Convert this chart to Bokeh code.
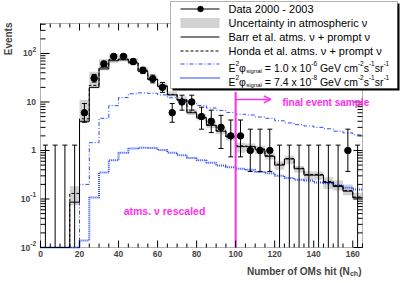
import math
from bokeh.plotting import figure
from bokeh.models import Range1d, Label, BoxAnnotation, Arrow, OpenHead
from bokeh.embed import file_html
from bokeh.resources import INLINE

# ---------------- data ----------------
bin_edges = list(range(0, 170, 5))          # N_ch bins of width 5, 0..165
data_counts = [0, 0, 0, 0, 6, 31, 61, 87, 87, 68, 45, 30, 20, 6, 10, 10, 5, 4,
               3, 2, 2, 1, 1, 1, 0, 0, 0, 0, 0, 0, 0, 1, 0]
data_err_lo = [0, 0, 0, 0, 3.82, 25.7, 53.5, 78, 78, 60, 38.5, 24.8, 15.8, 3.82,
               6.78, 6.78, 2.75, 2.34, 1.10, 0.74, 0.74, 0.37, 0.37, 0.37, 0, 0,
               0, 0, 0, 0, 0, 0.37, 0]
data_err_hi = [1.29, 1.29, 1.29, 1.29, 9.28, 37, 69, 96.5, 96.5, 76.5, 52, 35.9,
               25.3, 9.28, 13.81, 13.81, 7.81, 6.78, 5.30, 4.25, 4.25, 2.75, 2.75,
               2.75, 1.29, 1.29, 1.29, 1.29, 1.29, 1.29, 1.29, 2.75, 1.29]
barr_atm = [0, 0, 0, 0.086, 4.0, 20, 48, 71, 74, 64, 43, 29, 21, 14, 11, 6.0, 4.7,
            3.3, 2.5, 1.9, 1.2, 1.2, 1.05, 0.76, 0.5, 0.67, 0.42, 0.31, 0.31, 0.22,
            0.18, 0.145, 0.106]
honda_atm = [0, 0, 0, 0.13, 4.5, 22, 52, 75, 77, 66, 44, 29.5, 21.5, 14.3, 11.2,
             6.2, 4.8, 3.4, 2.55, 1.95, 1.25, 1.22, 1.07, 0.78, 0.52, 0.68, 0.43,
             0.32, 0.32, 0.23, 0.19, 0.15, 0.11]
atm_unc_lo = [0, 0, 0, 0.074, 3.7, 19, 45, 64, 68, 59, 40, 27, 19, 13, 10, 5.4,
              4.2, 2.9, 2.2, 1.6, 0.9, 0.95, 0.85, 0.65, 0.4, 0.52, 0.35, 0.25,
              0.25, 0.16, 0.15, 0.12, 0.095]
atm_unc_hi = [0, 0, 0, 0.184, 11, 42, 76, 96, 96, 80, 52, 35, 25, 16.5, 13, 7.2,
              5.6, 4.0, 3.0, 2.3, 1.45, 1.4, 1.25, 0.9, 0.6, 0.78, 0.48, 0.37,
              0.37, 0.28, 0.24, 0.2, 0.135]
signal_1p0e6 = [0.01, 0.01, 0.01, 0.01, 0.2, 1.45, 4.6, 8.4, 12.3, 14.8, 15.4,
                15.1, 14.0, 12.2, 10.8, 9.5, 8.5, 7.5, 6.7, 6.1, 5.6, 5.4, 4.9,
                4.6, 4.1, 3.7, 3.4, 3.2, 3.0, 2.8, 2.5, 2.3, 2.1]
signal_7p4e8 = [0.01, 0.01, 0.01, 0.01, 0.014, 0.107, 0.35, 0.63, 0.9, 1.1, 1.14,
                1.12, 1.02, 0.9, 0.8, 0.7, 0.63, 0.56, 0.49, 0.45, 0.42, 0.40,
                0.36, 0.34, 0.30, 0.27, 0.25, 0.24, 0.22, 0.21, 0.19, 0.17, 0.157]

x_ticks = [0, 20, 40, 60, 80, 100, 120, 140, 160]
x_minor_ticks = list(range(0, 170, 5))
y_ticks = [0.01, 0.1, 1, 10, 100]
y_tick_base = ["10", "10", "1", "10", "10"]
y_tick_sup = ["-2", "-1", "", "", "2"]
y_minor_mult = [2, 3, 4, 5, 6, 7, 8, 9]

cut_nch = 100
cut_line_top = 16
arrow_y = 11.3
arrow_end_x = 118
final_label_pos = (124, 9.7)
rescaled_label_pos = (42.6, 0.057)

legend_texts = ["Data 2000 - 2003", "Uncertainty in atmospheric \u03bd",
                "Barr et al. atms. \u03bd + prompt \u03bd",
                "Honda et al. atms. \u03bd + prompt \u03bd"]
signal_norms = ["1.0", "7.4"]
signal_exps = ["-6", "-8"]

# ---------------- layout / styles ----------------
FONT = "Liberation Sans"
BLUE = "#2a4bff"
MAG = "#ff2ef0"
GREY = "#d2d2d2"
W, H = 400, 281
XMIN, XMAX, YMIN, YMAX = 0, 165, 0.01, 415
FL, FT, FR, FB = 40, 23, 362, 247          # plot box in pixels

ppx = (FR - FL) / (XMAX - XMIN)
ppd = (FB - FT) / (math.log10(YMAX) - math.log10(YMIN))
x_start = XMIN - FL / ppx
x_end = XMAX + (W - FR) / ppx
y_start = 10 ** (math.log10(YMIN) - (H - FB) / ppd)
y_end = 10 ** (math.log10(YMAX) + FT / ppd)

p = figure(width=W, height=H, output_backend="svg", toolbar_location=None,
           y_axis_type="log", x_range=Range1d(x_start, x_end),
           y_range=Range1d(y_start, y_end), x_axis_location=None,
           y_axis_location=None, min_border=0, min_border_left=0, min_border_right=0,
           min_border_top=0, min_border_bottom=0, background_fill_color="white",
           border_fill_color="white", outline_line_color=None)
p.grid.visible = False

def sx(px):
    return px
def sy(py):
    return H - py

# ---------------- histograms ----------------
def steps(vals):
    xs, ys = [], []
    for i, v in enumerate(vals):
        xs += [bin_edges[i], bin_edges[i + 1]]
        ys += [max(v, YMIN), max(v, YMIN)]
    return xs, ys

band_idx = [i for i in range(len(atm_unc_hi)) if atm_unc_hi[i] > 0]
p.quad(left=[bin_edges[i] for i in band_idx], right=[bin_edges[i + 1] for i in band_idx],
       bottom=[atm_unc_lo[i] for i in band_idx], top=[atm_unc_hi[i] for i in band_idx],
       fill_color=GREY, line_color=None)

xs, ys = steps(signal_7p4e8)
p.line(xs, ys, line_color=BLUE, line_width=2, line_dash="1 1")
xs, ys = steps(signal_1p0e6)
p.line(xs, ys, line_color=BLUE, line_width=1, line_dash="4 2 1 2")
xs, ys = steps(honda_atm)
p.line(xs, ys, line_color="black", line_width=1, line_dash="3 2")
xs, ys = steps(barr_atm)
p.line(xs, ys, line_color="black", line_width=1)

# ---------------- data points ----------------
centers = [(bin_edges[i] + bin_edges[i + 1]) / 2 for i in range(len(data_counts))]
p.segment(x0=centers, y0=[max(v, YMIN) for v in data_err_lo], x1=centers,
          y1=data_err_hi, line_color="black", line_width=1)
p.scatter(x=centers, y=data_err_hi, marker="dash", size=5, line_color="black",
          line_width=1)
lo_idx = [i for i in range(len(centers)) if data_err_lo[i] > 0]
p.scatter(x=[centers[i] for i in lo_idx], y=[data_err_lo[i] for i in lo_idx],
          marker="dash", size=5, line_color="black", line_width=1)
pt_idx = [i for i in range(len(centers)) if data_counts[i] > 0]
p.scatter(x=[centers[i] for i in pt_idx], y=[data_counts[i] for i in pt_idx],
          marker="circle", size=6.5, fill_color="black", line_color="black")

# ---------------- cut line ----------------
p.segment(x0=[cut_nch], y0=[YMIN], x1=[cut_nch], y1=[cut_line_top],
          line_color=MAG, line_width=2)

# ---------------- axes: box, ticks (drawn on top of the data) ----------------
TX_MAJ, TX_MIN, TY_MAJ, TY_MIN = 7, 4, 9, 5
def seg(x0, y0, x1, y1):
    p.segment(x0=x0, y0=y0, x1=x1, y1=y1, line_color="black", line_width=1)

xmaj = x_ticks
xmin_ = [t for t in x_minor_ticks if t not in x_ticks]
for ticks, L in ((xmaj, TX_MAJ), (xmin_, TX_MIN)):
    f = 10 ** (L / ppd)
    seg(ticks, [YMIN] * len(ticks), ticks, [YMIN * f] * len(ticks))
    seg(ticks, [YMAX] * len(ticks), ticks, [YMAX / f] * len(ticks))
ymin_ = [k * t for t in y_ticks for k in y_minor_mult if k * t <= YMAX]
for ticks, L in ((y_ticks, TY_MAJ), (ymin_, TY_MIN)):
    d = L / ppx
    seg([XMIN] * len(ticks), ticks, [XMIN + d] * len(ticks), ticks)
    seg([XMAX] * len(ticks), ticks, [XMAX - d] * len(ticks), ticks)
p.add_layout(BoxAnnotation(left=XMIN, right=XMAX, bottom=YMIN, top=YMAX,
                           fill_alpha=0, line_color="black", line_width=1))

# ---------------- tick labels and titles ----------------
for t in x_ticks:
    p.add_layout(Label(x=t, y=YMIN, y_offset=-3, text=str(t), text_align="center",
                       text_baseline="top", text_font=FONT, text_font_style="bold",
                       text_font_size="8.5px"))

BOLDW = {"-": 333}
def tw_bold(s, size):
    return sum(BOLDW.get(ch, 556) for ch in s) * size / 1000.0

for v, base, sup in zip(y_ticks, y_tick_base, y_tick_sup):
    supw = tw_bold(sup, 6.5) if sup else 0
    p.add_layout(Label(x=XMIN, y=v, x_offset=-4.5 - supw, text=base,
                       text_align="right", text_baseline="middle", text_font=FONT,
                       text_font_style="bold", text_font_size="8.5px"))
    if sup:
        p.add_layout(Label(x=XMIN, y=v, x_offset=-4.5, y_offset=4, text=sup,
                           text_align="right", text_baseline="middle",
                           text_font=FONT, text_font_style="bold", text_font_size="6.5px"))

p.add_layout(Label(x=sx(8), y=sy(22), x_units="screen", y_units="screen", text="Events",
                   angle=math.pi / 2, text_align="right", text_baseline="middle",
                   text_font=FONT, text_font_style="bold", text_font_size="10px"))

xr = sx(361)
p.add_layout(Label(x=xr, y=sy(270.5), x_units="screen", y_units="screen", text=")",
                   text_align="right", text_baseline="alphabetic", text_font=FONT,
                   text_font_style="bold", text_font_size="10px"))
xr -= 3.4
p.add_layout(Label(x=xr, y=sy(273), x_units="screen", y_units="screen", text="ch",
                   text_align="right", text_baseline="alphabetic", text_font=FONT,
                   text_font_style="bold", text_font_size="7px"))
xr -= 8.3
p.add_layout(Label(x=xr, y=sy(270.5), x_units="screen", y_units="screen",
                   text="Number of OMs hit (N", text_align="right",
                   text_baseline="alphabetic", text_font=FONT, text_font_style="bold",
                   text_font_size="10px"))

# ---------------- magenta annotations ----------------
p.add_layout(Arrow(end=OpenHead(size=7, line_color=MAG, line_width=1.5),
                   x_start=cut_nch, y_start=arrow_y, x_end=arrow_end_x, y_end=arrow_y,
                   line_color=MAG, line_width=1.5))
p.add_layout(Label(x=final_label_pos[0], y=final_label_pos[1], text="final event sample",
                   text_font=FONT, text_font_style="bold", text_font_size="10px",
                   text_color=MAG, text_baseline="middle"))
p.add_layout(Label(x=rescaled_label_pos[0], y=rescaled_label_pos[1],
                   text="atms. \u03bd rescaled", text_font=FONT, text_font_style="bold",
                   text_font_size="10.5px", text_color=MAG, text_baseline="middle"))

# ---------------- legend ----------------
LEG_L, LEG_R, LEG_T, LEG_B = 170, 397, 1, 88
def sbox(l, r, t, b, **kw):
    p.add_layout(BoxAnnotation(left=sx(l), right=sx(r), top=sy(t), bottom=sy(b),
                               left_units="screen", right_units="screen",
                               top_units="screen", bottom_units="screen", **kw))

sbox(LEG_L + 2, LEG_R + 2, LEG_T + 2, LEG_B + 2, fill_color="black", fill_alpha=1,
     line_color=None)
sbox(LEG_L, LEG_R, LEG_T, LEG_B, fill_color="white", fill_alpha=1, line_color="black",
     line_width=1)
row_c = [8.5, 22.5, 36.5, 50.5, 63.5, 77.5]
SYM_L, SYM_R, SYM_C, TXT_X = 180, 219, 200, 228

def leg_line(py, color, width, dash):
    p.add_layout(Arrow(end=None, x_start=sx(SYM_L), y_start=sy(py), x_end=sx(SYM_R),
                       y_end=sy(py), start_units="screen", end_units="screen",
                       line_color=color, line_width=width, line_dash=dash))

leg_line(row_c[0], "black", 1, "solid")
sbox(SYM_C - 3, SYM_C + 3, row_c[0] - 3, row_c[0] + 3, fill_color="black",
     fill_alpha=1, line_color="black", border_radius=3)
sbox(SYM_L, SYM_R, row_c[1] - 5, row_c[1] + 5, fill_color=GREY, fill_alpha=1,
     line_color=None)
leg_line(row_c[2], "black", 1, "solid")
leg_line(row_c[3], "black", 1, "3 2")
leg_line(row_c[4], BLUE, 1, "4 2 1 2")
leg_line(row_c[5], BLUE, 2, "1 1")

for i, t in enumerate(legend_texts):
    p.add_layout(Label(x=sx(TXT_X), y=sy(row_c[i]), x_units="screen", y_units="screen",
                       text=t, text_baseline="middle", text_font=FONT,
                       text_font_size="11px", text_color="black"))

HELV = {" ": 278, "=": 584, ".": 278, "-": 333, "x": 500, "G": 778, "e": 556,
        "V": 667, "c": 500, "m": 833, "s": 500, "r": 333, "i": 222, "g": 556,
        "n": 556, "a": 556, "l": 222, "E": 667, "\u03c6": 680}
def tw(s, size):
    return sum(HELV.get(ch, 556) for ch in s) * size / 1000.0

for k in range(2):
    base_py = row_c[4 + k] + 3.7
    pieces = [("E", 10.5, 0), ("2", 6.5, 4), ("\u03c6", 10.5, 0), ("signal", 6, -3.5),
              (" = " + signal_norms[k] + " x 10", 10.5, 0), (signal_exps[k], 6.5, 4),
              (" GeV cm", 10.5, 0), ("-2", 6.5, 4), ("s", 10.5, 0), ("-1", 6.5, 4),
              ("sr", 10.5, 0), ("-1", 6.5, 4)]
    x = sx(TXT_X)
    for txt, size, dy in pieces:
        lead = len(txt) - len(txt.lstrip(" "))
        x += tw(" " * lead, size)
        core = txt.strip(" ")
        p.add_layout(Label(x=x, y=sy(base_py) + dy, x_units="screen", y_units="screen",
                           text=core, text_baseline="alphabetic", text_font=FONT,
                           text_font_size=f"{size}px", text_color="black"))
        x += tw(core, size)

open("out.html", "w").write(file_html(p, INLINE))
